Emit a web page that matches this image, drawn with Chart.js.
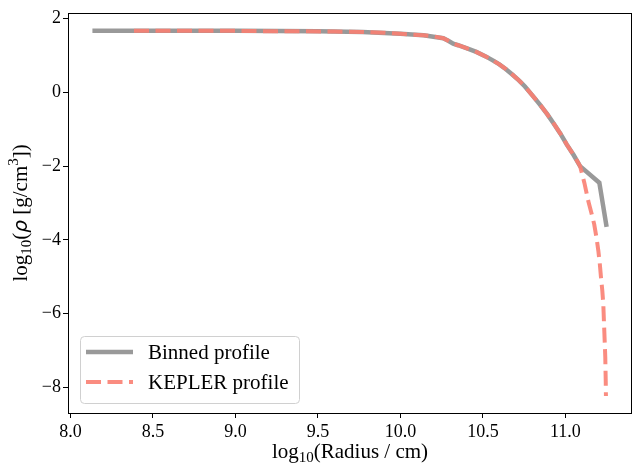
<!DOCTYPE html>
<html>
<head>
<meta charset="utf-8">
<script src="https://cdn.jsdelivr.net/npm/chart.js@4/dist/chart.umd.min.js"></script>
<style>
  html, body { margin: 0; padding: 0; background: #fff; }
  canvas { display: block; }
</style>
</head>
<body>
<canvas id="profileChart" width="633" height="466"></canvas>
<script>
// binned profile (log10 radius / cm, log10 density / g cm^-3)
const binnedRadius = [8.133, 8.5, 9.0, 9.5, 9.77, 10.0, 10.14, 10.26, 10.29, 10.32, 10.35, 10.40, 10.46, 10.52, 10.56, 10.60, 10.64, 10.68, 10.72, 10.755, 10.80, 10.846, 10.89, 10.927, 10.97, 11.008, 11.05, 11.089, 11.206, 11.25];
const binnedDensity = [1.67, 1.67, 1.67, 1.66, 1.64, 1.59, 1.55, 1.47, 1.40, 1.32, 1.28, 1.20, 1.10, 0.97, 0.87, 0.76, 0.63, 0.48, 0.32, 0.16, -0.08, -0.33, -0.59, -0.83, -1.12, -1.41, -1.70, -2.0, -2.45, -3.65];

// KEPLER profile
const keplerRadius = [8.385, 8.6, 8.8, 9.0, 9.2, 9.4, 9.6, 9.77, 9.9, 10.0, 10.14, 10.2, 10.26, 10.29, 10.32, 10.35, 10.40, 10.46, 10.52, 10.56, 10.60, 10.64, 10.68, 10.72, 10.755, 10.80, 10.846, 10.89, 10.927, 10.97, 11.008, 11.05, 11.089, 11.115, 11.139, 11.158, 11.175, 11.189, 11.20, 11.209, 11.216, 11.224, 11.230, 11.236, 11.242, 11.245, 11.246];
const keplerDensity = [1.67, 1.67, 1.67, 1.67, 1.66, 1.66, 1.65, 1.64, 1.62, 1.59, 1.55, 1.52, 1.47, 1.40, 1.32, 1.28, 1.20, 1.10, 0.97, 0.87, 0.76, 0.63, 0.48, 0.32, 0.16, -0.08, -0.33, -0.59, -0.83, -1.12, -1.41, -1.70, -2.0, -2.45, -2.95, -3.27, -3.58, -3.95, -4.30, -4.66, -5.02, -5.38, -5.74, -6.46, -7.18, -7.90, -8.24];

const seriesLabels = ['Binned profile', 'KEPLER profile'];
const xTicks = [8.0, 8.5, 9.0, 9.5, 10.0, 10.5, 11.0];
const yTicks = [-8, -6, -4, -2, 0, 2];

const serif = 'Liberation Serif';
Chart.defaults.font.family = serif;

function toPoints(xs, ys) {
  return xs.map((x, i) => ({ x: x, y: ys[i] }));
}

// draws pieces of text with sub/superscripts along the current x direction
function drawRich(ctx, parts, x, y) {
  let total = 0;
  parts.forEach(p => { ctx.font = p.font; total += ctx.measureText(p.text).width; });
  let cx = x - total / 2;
  parts.forEach(p => {
    ctx.font = p.font;
    ctx.fillText(p.text, cx, y + (p.dy || 0));
    cx += ctx.measureText(p.text).width;
  });
}

const decorations = {
  id: 'decorations',
  afterDraw(chart) {
    const ctx = chart.ctx;
    const a = chart.chartArea;
    ctx.save();

    // frame
    ctx.strokeStyle = '#000';
    ctx.lineWidth = 1;
    ctx.strokeRect(Math.round(a.left) + 0.5, Math.round(a.top) + 0.5, Math.round(a.right - a.left) - 1, Math.round(a.bottom - a.top));

    // legend
    const bx = 80, by = 336, bw = 219, bh = 67;
    ctx.beginPath();
    ctx.roundRect(bx + 0.5, by + 0.5, bw, bh, 4);
    ctx.fillStyle = 'rgba(255,255,255,0.8)';
    ctx.fill();
    ctx.strokeStyle = '#d0d0d0';
    ctx.stroke();
    chart.data.datasets.forEach((ds, i) => {
      const ly = 352 + i * 30;
      ctx.beginPath();
      ctx.setLineDash(ds.borderDash || []);
      ctx.lineDashOffset = 0;
      ctx.strokeStyle = ds.borderColor;
      ctx.lineWidth = ds.borderWidth;
      ctx.lineCap = 'butt';
      ctx.moveTo(86, ly);
      ctx.lineTo(133, ly);
      ctx.stroke();
      ctx.setLineDash([]);
      ctx.fillStyle = '#000';
      ctx.font = '21px "' + serif + '"';
      ctx.textBaseline = 'middle';
      ctx.textAlign = 'left';
      ctx.fillText(ds.label, 148, ly + 1);
    });

    // axis titles
    ctx.fillStyle = '#000';
    ctx.textBaseline = 'alphabetic';
    ctx.textAlign = 'left';
    const big = '21px "' + serif + '"';
    const small = '15px "' + serif + '"';
    drawRich(ctx, [
      { text: 'log', font: big },
      { text: '10', font: small, dy: 4 },
      { text: '(Radius / cm)', font: big }
    ], (a.left + a.right) / 2, 458);

    ctx.translate(27, (a.top + a.bottom) / 2);
    ctx.rotate(-Math.PI / 2);
    drawRich(ctx, [
      { text: 'log', font: big },
      { text: '10', font: small, dy: 4 },
      { text: '(', font: big },
      { text: 'ρ', font: 'oblique 20px "DejaVu Sans"' },
      { text: ' [g/cm', font: big },
      { text: '3', font: small, dy: -9 },
      { text: '])', font: big }
    ], 0, 0);
    ctx.restore();
  }
};

new Chart(document.getElementById('profileChart'), {
  type: 'line',
  data: {
    datasets: [
      {
        label: seriesLabels[0],
        data: toPoints(binnedRadius, binnedDensity),
        borderColor: 'rgba(128,128,128,0.8)',
        borderWidth: 4.5,
        pointRadius: 0,
        tension: 0,
        order: 2
      },
      {
        label: seriesLabels[1],
        data: toPoints(keplerRadius, keplerDensity),
        borderColor: 'rgba(250,128,114,0.9)',
        borderWidth: 4,
        borderDash: [15, 6.5],
        borderCapStyle: 'butt',
        pointRadius: 0,
        tension: 0,
        order: 1
      }
    ]
  },
  options: {
    responsive: false,
    animation: false,
    layout: { padding: { top: 11, right: 1, left: 0, bottom: 0 } },
    plugins: { legend: { display: false }, tooltip: { enabled: false } },
    scales: {
      x: {
        type: 'linear',
        min: 7.985,
        max: 11.404,
        afterFit: s => { s.height = 53; },
        afterBuildTicks: s => { s.ticks = xTicks.map(v => ({ value: v })); },
        border: { display: false },
        grid: { drawOnChartArea: false, color: '#000', tickLength: 5, lineWidth: 1 },
        ticks: {
          padding: 3,
          color: '#000',
          font: { family: serif, size: 18 },
          maxRotation: 0,
          callback: v => v.toFixed(1)
        }
      },
      y: {
        type: 'linear',
        min: -8.70,
        max: 2.16,
        afterFit: s => { s.width = 68; },
        afterBuildTicks: s => { s.ticks = yTicks.map(v => ({ value: v })); },
        border: { display: false },
        grid: { drawOnChartArea: false, color: '#000', tickLength: 5, lineWidth: 1 },
        ticks: {
          padding: 2,
          color: '#000',
          font: { family: serif, size: 18 },
          callback: v => String(v).replace('-', '\u2212')
        }
      }
    }
  },
  plugins: [decorations]
});
</script>
</body>
</html>
